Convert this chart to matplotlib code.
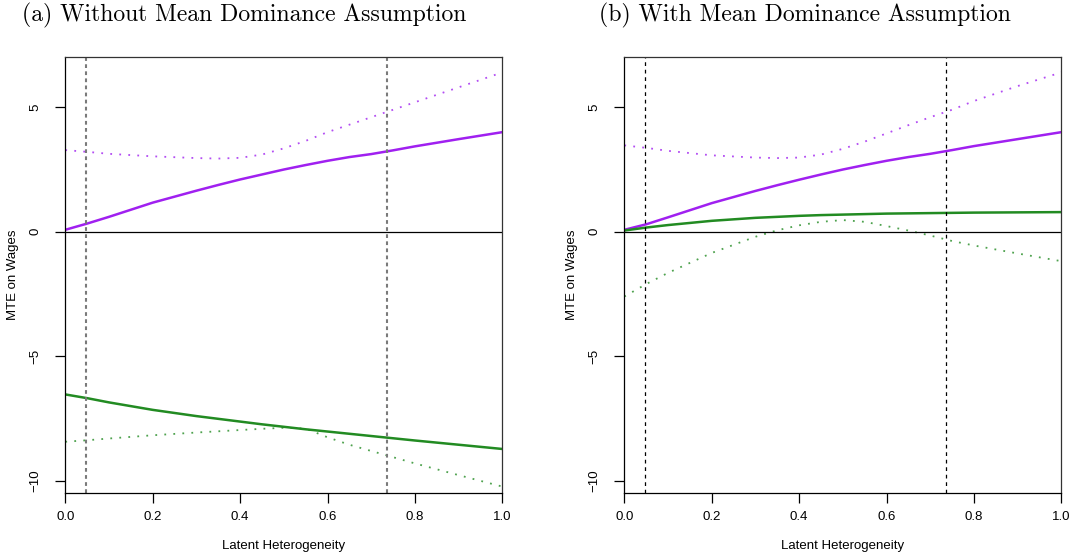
import matplotlib
matplotlib.use("Agg")
import matplotlib.pyplot as plt
import numpy as np

# grid of latent heterogeneity values
u = [0.0, 0.05, 0.1, 0.2, 0.3, 0.35, 0.4, 0.45, 0.5, 0.55, 0.6, 0.65, 0.7, 0.75, 0.8, 0.9, 1.0]

# (a) without mean dominance
mte_a_purple = [0.08, 0.33, 0.6, 1.17, 1.65, 1.88, 2.1, 2.3, 2.5, 2.68, 2.85, 3.0, 3.12, 3.27, 3.43, 3.72, 4.0]
bound_a_purple = [3.28, 3.21, 3.13, 3.03, 2.96, 2.94, 2.97, 3.1, 3.35, 3.65, 4.0, 4.3, 4.6, 4.9, 5.2, 5.8, 6.4]
mte_a_green = [-6.53, -6.68, -6.85, -7.15, -7.4, -7.51, -7.62, -7.73, -7.83, -7.93, -8.02, -8.11, -8.2, -8.29, -8.38, -8.55, -8.72]
bound_a_green = [-8.43, -8.37, -8.3, -8.17, -8.06, -8.01, -7.96, -7.91, -7.87, -7.9, -8.25, -8.55, -8.8, -9.05, -9.3, -9.77, -10.23]

# (b) with mean dominance
mte_b_purple = [0.08, 0.3, 0.58, 1.15, 1.64, 1.87, 2.09, 2.3, 2.5, 2.68, 2.85, 3.0, 3.13, 3.28, 3.44, 3.72, 4.0]
bound_b_purple = [3.47, 3.37, 3.25, 3.07, 2.98, 2.96, 2.98, 3.1, 3.33, 3.62, 3.95, 4.28, 4.6, 4.9, 5.25, 5.85, 6.4]
mte_b_green = [0.05, 0.17, 0.27, 0.44, 0.56, 0.6, 0.64, 0.67, 0.69, 0.71, 0.73, 0.74, 0.75, 0.76, 0.77, 0.78, 0.79]
bound_b_green = [-2.6, -2.1, -1.65, -0.85, -0.2, 0.06, 0.26, 0.4, 0.47, 0.4, 0.23, 0.05, -0.15, -0.37, -0.55, -0.87, -1.18]

cutoffs = [0.048, 0.736]
titles = ["(a) Without Mean Dominance Assumption", "(b) With Mean Dominance Assumption"]

purple = "#A020F0"
green = "#228B22"

plt.rcParams['font.family'] = ['Liberation Sans', 'DejaVu Sans']

fig = plt.figure(figsize=(10.75, 5.57), dpi=100)
ax_a = fig.add_axes([65.3 / 1075, 63.7 / 557, 437 / 1075, 436.6 / 557])
ax_b = fig.add_axes([624.3 / 1075, 63.7 / 557, 437 / 1075, 436.6 / 557])

panels = [
    (ax_a, mte_a_purple, bound_a_purple, mte_a_green, bound_a_green, "#7a7a7a", (0, (1.8, 1.6)), 1.5),
    (ax_b, mte_b_purple, bound_b_purple, mte_b_green, bound_b_green, "black", (0, (3, 3)), 0.9),
]

for ax, mp, bp, mg, bg, vcol, vls, vlw in panels:
    ax.plot(u, bp, color=purple, lw=1.3, ls=(0, (1, 4)), alpha=0.8)
    ax.plot(u, bg, color=green, lw=1.3, ls=(0, (1, 4)), alpha=0.8)
    ax.plot(u, mp, color=purple, lw=1.8)
    ax.plot(u, mg, color=green, lw=1.8)
    ax.axhline(0, color="black", lw=0.9)
    for c in cutoffs:
        ax.axvline(c, color=vcol, ls=vls, lw=vlw)

    ax.set_xlim(0, 1)
    ax.set_ylim(-10.5, 7.03)
    ax.set_xticks([0.0, 0.2, 0.4, 0.6, 0.8, 1.0])
    ax.set_xticklabels(["0.0", "0.2", "0.4", "0.6", "0.8", "1.0"])
    ax.set_yticks([-10, -5, 0, 5])
    ax.set_yticklabels(["\u221210", "\u22125", "0", "5"], rotation=90, va="center")
    ax.tick_params(direction="out", length=7, width=0.9, labelsize=9.5, pad=6)
    ax.tick_params(axis="y", pad=10)
    for s in ax.spines.values():
        s.set_linewidth(0.9)
        s.set_color("#333333")
    ax.spines["left"].set_color("black")
    ax.spines["bottom"].set_color("black")
    ax.set_xlabel("Latent Heterogeneity", fontsize=9.5)
    ax.xaxis.set_label_coords(0.5, -47 / 436.6)
    ax.set_ylabel("MTE on Wages", fontsize=9.5)
    ax.yaxis.set_label_coords(-46 / 437, 0.5)

fig.text(22 / 1075, 1 - 21 / 557, titles[0], fontfamily="cmr10", fontsize=17.1, ha="left", va="baseline")
fig.text(599 / 1075, 1 - 21 / 557, titles[1], fontfamily="cmr10", fontsize=17.1, ha="left", va="baseline")

fig.savefig("out.png", dpi=100)
